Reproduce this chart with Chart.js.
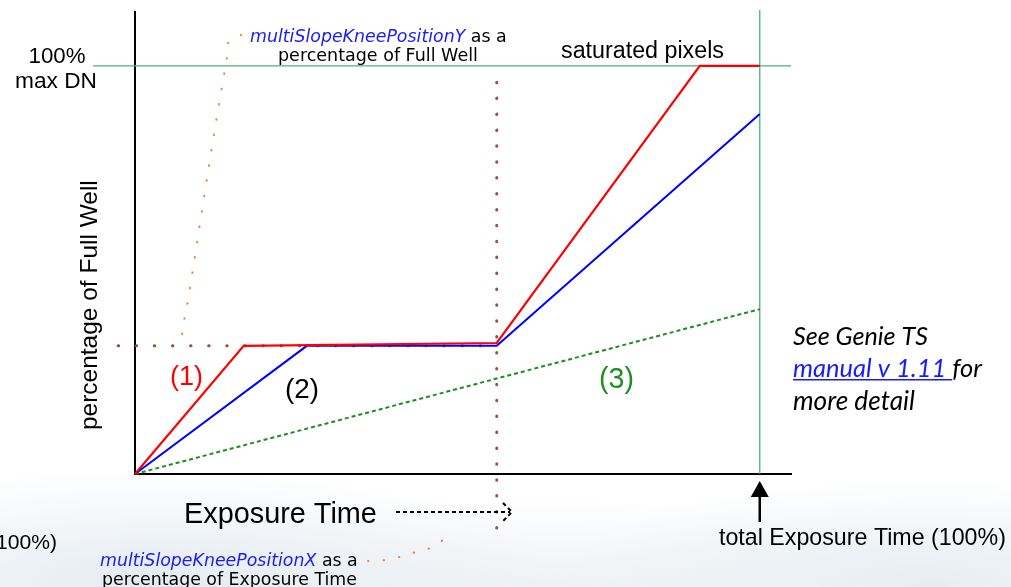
<!DOCTYPE html>
<html>
<head>
<meta charset="utf-8">
<script src="https://cdn.jsdelivr.net/npm/chart.js@4/dist/chart.umd.min.js"></script>
<style>
  html, body { margin: 0; padding: 0; }
  body {
    width: 1011px; height: 587px; overflow: hidden;
    background:
      radial-gradient(ellipse 420px 120px at 15% 100%, #e4ebf1 0%, rgba(255,255,255,0) 100%),
      radial-gradient(ellipse 380px 110px at 92% 100%, #e6edf2 0%, rgba(255,255,255,0) 100%),
      radial-gradient(ellipse 600px 90px at 55% 100%, #eef2f5 0%, rgba(255,255,255,0) 100%),
      #fff;
  }
  #wrap { width: 1011px; height: 587px; position: relative; }
</style>
</head>
<body>
<div id="wrap"><canvas id="grafico"></canvas></div>
<script>
// exposure time (% of total) / signal (% of full well)
const redX = [0, 17.4, 57.9, 90.4, 100]
const redY = [0, 31.4, 32.1, 100, 100]
const blueX = [0, 27.5, 57.9, 100]
const blueY = [0, 31.4, 31.4, 88.2]
const greenX = [0, 100]
const greenY = [0, 40.4]

// knee position and guide lines
const kneeX = 57.9
const kneeY = 31.4
const fullWell = 100
const totalTime = 100

// leader dots to the two knee labels
const leadTopX = [17.0, 15.0, 14.7, 13.4, 11.8, 9.9, 8.3, 7.7, 7.5]
const leadTopY = [107.6, 105.9, 102.0, 90.4, 75.2, 56.4, 40.9, 36.5, 33.3]
const leadBotX = [37.3, 40.0, 42.9, 45.4, 48.2, 49.8]
const leadBotY = [-21.3, -21.1, -20.1, -18.9, -17.6, -15.2]

const pts = (xs, ys) => xs.map((x, i) => ({ x, y: ys[i] }))

const line = (data, color, width, extra) => Object.assign({
  data, borderColor: color, borderWidth: width, showLine: true,
  pointRadius: 0, fill: false, tension: 0, clip: false
}, extra || {})

// text runs fitted to a width
function drawRuns(ctx, runs, x, y, width, size, family, align) {
  const font = (r, s) => (r.italic ? 'italic ' : '') + s + 'px ' + (r.family || family)
  let total = 0
  runs.forEach(r => { ctx.font = font(r, size); total += ctx.measureText(r.t).width })
  const s = size * width / total
  let cx = align === 'center' ? x - width / 2 : align === 'right' ? x - width : x
  ctx.textBaseline = 'middle'
  ctx.textAlign = 'left'
  runs.forEach(r => {
    ctx.font = font(r, s)
    ctx.fillStyle = r.color || '#000'
    ctx.fillText(r.t, cx, y)
    const w = ctx.measureText(r.t).width
    if (r.underline) {
      ctx.strokeStyle = r.color
      ctx.lineWidth = 1.5
      ctx.beginPath()
      ctx.moveTo(cx, y + s * 0.42)
      ctx.lineTo(cx + w, y + s * 0.42)
      ctx.stroke()
    }
    cx += w
  })
}

const notes = {
  id: 'notes',
  afterDraw(chart) {
    const ctx = chart.ctx
    const xs = chart.scales.x
    const arial = '"Liberation Sans", Arial, sans-serif'
    const verdana = '"DejaVu Sans", Verdana, sans-serif'
    const calibri = 'Lato, "Open Sans", sans-serif'
    ctx.save()

    drawRuns(ctx, [{ t: '100%' }], 57, 57, 57, 21, arial, 'center')
    drawRuns(ctx, [{ t: 'max DN' }], 56, 82, 82, 21, arial, 'center')

    drawRuns(ctx, [{ t: 'multiSlopeKneePositionY', italic: true, color: '#1a1aff' }, { t: ' as a' }], 250, 37, 257, 16, verdana)
    drawRuns(ctx, [{ t: 'percentage of Full Well' }], 278, 56, 200, 16, verdana)

    drawRuns(ctx, [{ t: 'saturated pixels' }], 561, 52, 163, 22, arial)

    drawRuns(ctx, [{ t: '(1)', color: '#ff0000' }], 170, 378, 33, 24, arial)
    drawRuns(ctx, [{ t: '(2)' }], 285, 390, 34, 24, arial)
    drawRuns(ctx, [{ t: '(3)', color: '#1f8f1f' }], 599, 380, 35, 24, arial)

    drawRuns(ctx, [{ t: 'See Genie TS', italic: true }], 793, 337, 135, 24, calibri)
    drawRuns(ctx, [{ t: 'manual v 1.11 ', italic: true, color: '#1a1aff', underline: true }, { t: 'for', italic: true }], 793, 369, 189, 24, calibri)
    drawRuns(ctx, [{ t: 'more detail', italic: true }], 793, 402, 122, 24, calibri)

    drawRuns(ctx, [{ t: 'Exposure Time' }], 184, 515, 193, 26, arial)
    drawRuns(ctx, [{ t: 'total Exposure Time (100%)' }], 719, 539, 287, 19, arial)
    drawRuns(ctx, [{ t: '(100%)' }], 57, 543, 68, 19, arial, 'right')

    drawRuns(ctx, [{ t: 'multiSlopeKneePositionX', italic: true, color: '#1a1aff' }, { t: ' as a' }], 100, 561, 258, 16, verdana)
    drawRuns(ctx, [{ t: 'percentage of Exposure Time' }], 102, 580, 255, 16, verdana)

    // y title, rotated
    ctx.save()
    ctx.translate(90, 305)
    ctx.rotate(-Math.PI / 2)
    drawRuns(ctx, [{ t: 'percentage of Full Well' }], 0, 0, 250, 24, arial, 'center')
    ctx.restore()

    // dashed arrow after "Exposure Time"
    ctx.strokeStyle = '#000'
    ctx.lineWidth = 2
    ctx.setLineDash([4, 3])
    ctx.beginPath()
    ctx.moveTo(396, 512); ctx.lineTo(510, 512)
    ctx.moveTo(503, 503); ctx.lineTo(512, 512); ctx.lineTo(503, 521)
    ctx.stroke()
    ctx.setLineDash([])

    // arrow up to total exposure time
    const ax = xs.getPixelForValue(totalTime)
    ctx.lineWidth = 2.5
    ctx.beginPath()
    ctx.moveTo(ax, 522); ctx.lineTo(ax, 494)
    ctx.stroke()
    ctx.fillStyle = '#000'
    ctx.beginPath()
    ctx.moveTo(ax, 481); ctx.lineTo(ax - 9, 497); ctx.lineTo(ax + 9, 497)
    ctx.closePath()
    ctx.fill()

    ctx.restore()
  }
}

const dotted = { borderDash: [0.5, 17.6], borderCapStyle: 'round' }
const dottedV = { borderDash: [0.5, 15.4], borderCapStyle: 'round' }
const orangeDots = { borderDash: [0.5, 15], borderCapStyle: 'round', tension: 0.3 }

const data = {
  datasets: [
    line(pts(redX, redY), '#ff0000', 2.2),
    line(pts(blueX, blueY), '#0000ff', 2),
    line(pts(greenX, greenY), '#1e8c1e', 2, { borderDash: [4, 3] }),
    line([{ x: -2.7, y: kneeY }, { x: kneeX, y: kneeY }], '#a0522d', 3, dotted),
    line([{ x: kneeX, y: 96 }, { x: kneeX, y: -16.4 }], '#a0522d', 3, dottedV),
    line([{ x: -6.7, y: fullWell }, { x: 105, y: fullWell }], '#4caf7d', 1.3),
    line([{ x: totalTime, y: 113.7 }, { x: totalTime, y: 0 }], '#4caf7d', 1.3),
    line(pts(leadTopX, leadTopY), '#f58025', 2, orangeDots),
    line(pts(leadBotX, leadBotY), '#f58025', 2, orangeDots)
  ]
}

const config = {
  type: 'scatter',
  data,
  options: {
    responsive: true,
    maintainAspectRatio: false,
    animation: false,
    layout: { padding: { left: 135, top: 12, right: 220, bottom: 113 } },
    plugins: { legend: { display: false }, tooltip: { enabled: false } },
    scales: {
      x: {
        type: 'linear', min: 0, max: 105,
        grid: { display: false, drawTicks: false },
        ticks: { display: false },
        border: { display: true, color: '#000', width: 2 }
      },
      y: {
        type: 'linear', min: 0, max: 113.2,
        grid: { display: false, drawTicks: false },
        ticks: { display: false },
        border: { display: true, color: '#000', width: 2 }
      }
    }
  },
  plugins: [notes]
}

const graph = new Chart(document.getElementById('grafico'), config)
</script>
</body>
</html>
